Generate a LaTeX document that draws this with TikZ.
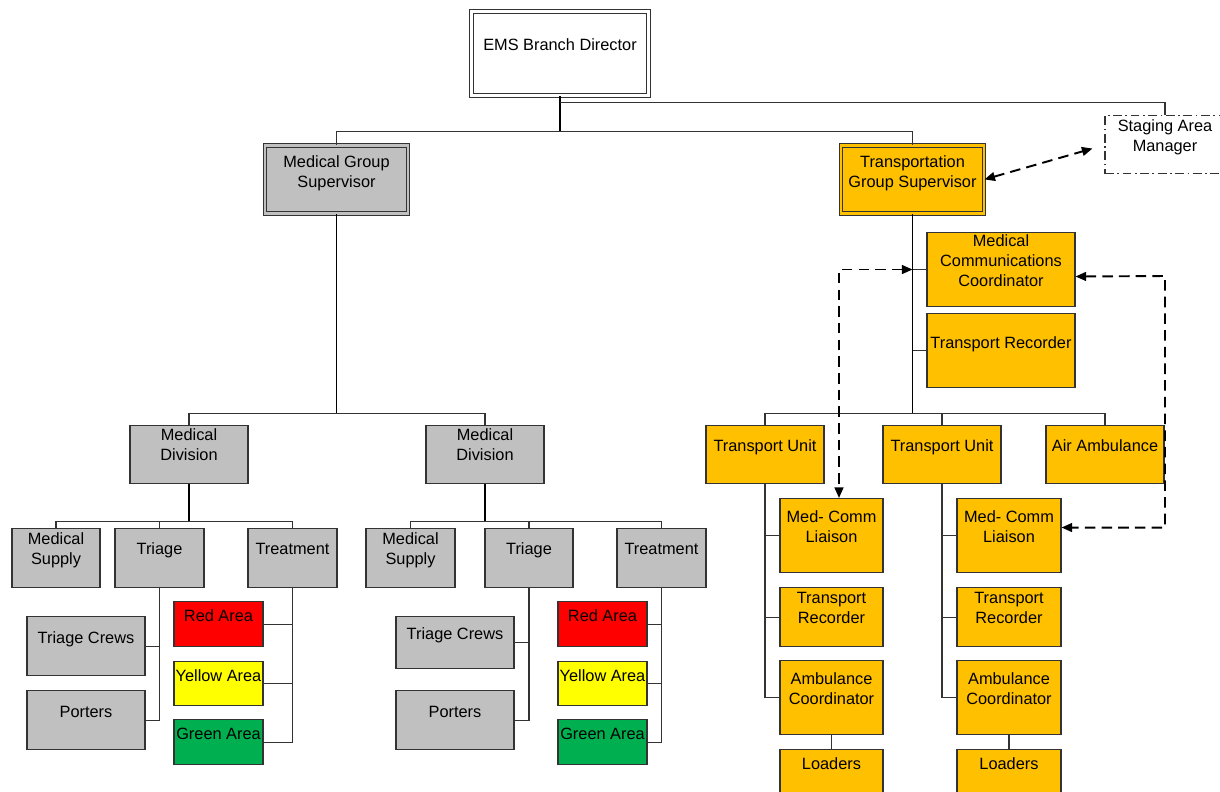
\documentclass[tikz,border=0pt]{standalone}
\usepackage{fontspec}
\setmainfont{Liberation Sans}
\usetikzlibrary{arrows.meta}
\definecolor{boxgray}{HTML}{C0C0C0}
\definecolor{boxorange}{HTML}{FFC000}
\definecolor{areared}{HTML}{FF0000}
\definecolor{areayellow}{HTML}{FFFF00}
\definecolor{areagreen}{HTML}{00B050}
\newdimen\pxu \pxu=0.02cm
\begin{document}
\begin{tikzpicture}[x=0.02cm,y=-0.02cm,
  orgbox/.style={draw=black!80,line width=0.6pt,anchor=north,align=center,inner xsep=0pt,inner ysep=0pt,font=\fontsize{9.3}{11.3}\selectfont},
  dims/.style n args={3}{minimum width=#1\pxu,text height=#2\pxu,text depth=#3\pxu},
  headbox/.style={orgbox,fill=#1,double=#1,double distance=1.4pt,line width=0.5pt},
  graybox/.style={orgbox,fill=boxgray},
  orangebox/.style={orgbox,fill=boxorange},
  link/.style={draw=black!80,line width=0.6pt},
  trunk/.style={draw=black,line width=1.1pt},
  dlink/.style={black,line width=1.1pt,dash pattern=on 6pt off 3.5pt,{Triangle[length=6pt,width=5pt]}-{Triangle[length=6pt,width=5pt]}},
]
\useasboundingbox (0,0) rectangle (1220,791);
\node[headbox=white,dims={177}{39}{45}] (dir) at (560,11) {EMS Branch Director};
\node[headbox=boxgray,dims={143}{42}{26}] (mgs) at (336.5,145) {Medical Group\\Supervisor};
\node[headbox=boxorange,dims={143}{42}{26}] (tgs) at (912.5,145) {Transportation\\Group Supervisor};
\node[orgbox,dash pattern=on 5pt off 2pt on 1pt off 2pt,dims={120}{36}{22}] (stg) at (1165,115) {Staging Area\\Manager};
\node[orangebox,dims={148}{54}{20}] (mcc) at (1001,232) {Medical\\Communications\\Coordinator};
\node[orangebox,dims={148}{35}{39}] (trec) at (1001,313) {Transport Recorder};
\node[graybox,dims={118}{35}{23}] (md1) at (189,425) {Medical\\Division};
\node[graybox,dims={118}{35}{23}] (md2) at (485,425) {Medical\\Division};
\node[orangebox,dims={118}{26}{32}] (tu1) at (765,425) {Transport Unit};
\node[orangebox,dims={118}{26}{32}] (tu2) at (942,425) {Transport Unit};
\node[orangebox,dims={118}{26}{32}] (air) at (1105,425) {Air Ambulance};
\node[graybox,dims={88}{36}{23}] (sup1) at (56,528) {Medical\\Supply};
\node[graybox,dims={89}{26}{33}] (tri1) at (159.5,528) {Triage};
\node[graybox,dims={89}{26}{33}] (trt1) at (292.5,528) {Treatment};
\node[graybox,dims={89}{36}{23}] (sup2) at (410.5,528) {Medical\\Supply};
\node[graybox,dims={88}{26}{33}] (tri2) at (529,528) {Triage};
\node[graybox,dims={89}{26}{33}] (trt2) at (661.5,528) {Treatment};
\node[graybox,dims={118}{27}{32}] (crew1) at (86,616) {Triage Crews};
\node[graybox,dims={118}{27}{32}] (port1) at (86,690) {Porters};
\node[graybox,dims={118}{23}{29}] (crew2) at (455,616) {Triage Crews};
\node[graybox,dims={118}{27}{32}] (port2) at (455,690) {Porters};
\node[orgbox,fill=areared,dims={89}{20}{25}] (red1) at (218.5,601) {Red Area};
\node[orgbox,fill=areayellow,dims={89}{20}{24}] (yel1) at (218.5,661) {Yellow Area};
\node[orgbox,fill=areagreen,dims={89}{20}{25}] (grn1) at (218.5,719) {Green Area};
\node[orgbox,fill=areared,dims={89}{20}{25}] (red2) at (602.5,601) {Red Area};
\node[orgbox,fill=areayellow,dims={89}{20}{24}] (yel2) at (602.5,661) {Yellow Area};
\node[orgbox,fill=areagreen,dims={89}{20}{25}] (grn2) at (602.5,719) {Green Area};
\node[orangebox,dims={103}{44}{30}] (mcl1) at (831.5,498) {Med- Comm\\Liaison};
\node[orangebox,dims={103}{36}{23}] (trr1) at (831.5,587) {Transport\\Recorder};
\node[orangebox,dims={103}{44}{30}] (amb1) at (831.5,660) {Ambulance\\Coordinator};
\node[orangebox,dims={103}{20}{39}] (load1) at (831.5,749) {Loaders};
\node[orangebox,dims={104}{44}{30}] (mcl2) at (1009,498) {Med- Comm\\Liaison};
\node[orangebox,dims={104}{36}{23}] (trr2) at (1009,587) {Transport\\Recorder};
\node[orangebox,dims={104}{44}{30}] (amb2) at (1009,660) {Ambulance\\Coordinator};
\node[orangebox,dims={104}{20}{39}] (load2) at (1009,749) {Loaders};
\draw[trunk] (dir.south) -- ++(0,36) coordinate (dbus);
\draw[link] (mgs.north) |- (dbus) -| (tgs.north);
\draw[link] (dir.south) ++(0,7) -| (stg.north);
\draw[trunk] (mgs.south) -- ++(0,200) coordinate (mbus);
\draw[link] (md1.north) |- (mbus) -| (md2.north);
\draw[trunk] (md1.south) -- ++(0,37) coordinate (d1bus);
\draw[link] (sup1.north) |- (d1bus) -| (trt1.north);
\draw[link] (tri1.north) -- (tri1.north |- d1bus);
\draw[link] (tri1.south) |- (crew1.east);
\draw[link] (tri1.south) |- (port1.east);
\draw[link] (trt1.south) |- (red1.east);
\draw[link] (trt1.south) |- (yel1.east);
\draw[link] (trt1.south) |- (grn1.east);
\draw[trunk] (md2.south) -- ++(0,37) coordinate (d2bus);
\draw[link] (sup2.north) |- (d2bus) -| (trt2.north);
\draw[link] (tri2.north) -- (tri2.north |- d2bus);
\draw[link] (tri2.south) |- (crew2.east);
\draw[link] (tri2.south) |- (port2.east);
\draw[link] (trt2.south) |- (red2.east);
\draw[link] (trt2.south) |- (yel2.east);
\draw[link] (trt2.south) |- (grn2.east);
\draw[trunk] (tgs.south) -- ++(0,200) coordinate (tbus);
\draw[link] (tu1.north) |- (tbus) -| (air.north);
\draw[link] (tu2.north) -- (tu2.north |- tbus);
\draw[link] (mcc.west) -- (mcc.west -| tbus);
\draw[link] (trec.west) -- (trec.west -| tbus);
\draw[link] (tu1.south) |- (mcl1.west);
\draw[link] (tu1.south) |- (trr1.west);
\draw[link] (tu1.south) |- (amb1.west);
\draw[link] (amb1.south) -- (load1.north);
\draw[link] (tu2.south) |- (mcl2.west);
\draw[link] (tu2.south) |- (trr2.west);
\draw[link] (tu2.south) |- (amb2.west);
\draw[link] (amb2.south) -- (load2.north);
\draw[dlink] (tgs.east) -- ([xshift=-12\pxu,yshift=-4\pxu]stg.west);
\draw[dlink] (mcc.west -| tbus) -| ([xshift=7.5\pxu]mcl1.north);
\draw[dlink] ([yshift=-7\pxu]mcc.east) -- (1165,276) |- ([yshift=8\pxu]mcl2.east);
\end{tikzpicture}
\end{document}
